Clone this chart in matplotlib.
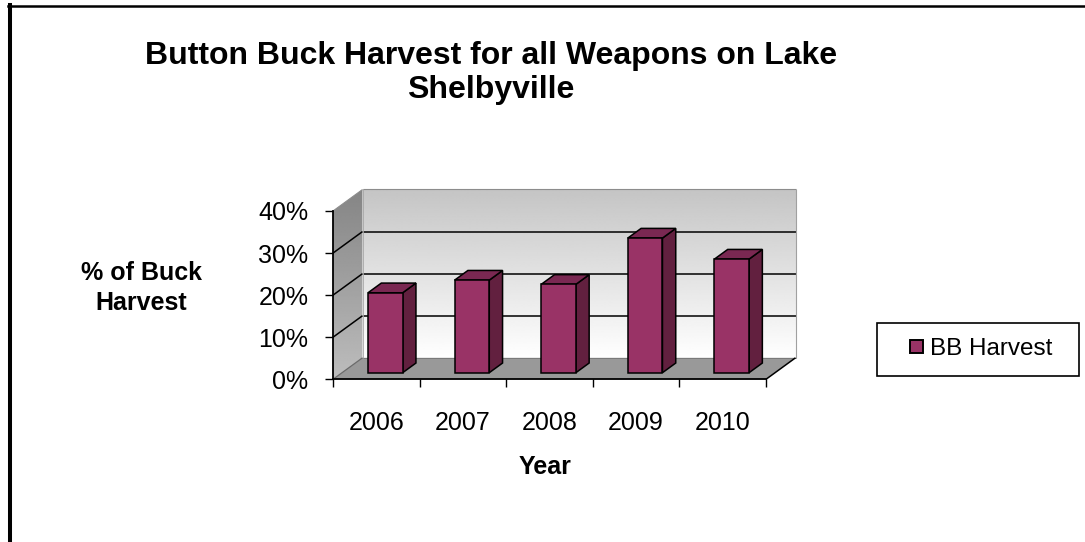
import numpy as np
import matplotlib
matplotlib.use('Agg')
import matplotlib.pyplot as plt
from matplotlib.patches import Polygon, Rectangle, Patch
from matplotlib.lines import Line2D
from matplotlib.transforms import Affine2D, IdentityTransform
from matplotlib.ticker import PercentFormatter, FixedLocator
from matplotlib.legend_handler import HandlerPatch

# ---- data ----
years = ['2006', '2007', '2008', '2009', '2010']
bb_harvest = [0.19, 0.22, 0.21, 0.32, 0.27]
y_ticks = [0.0, 0.1, 0.2, 0.3, 0.4]
series_name = 'BB Harvest'
title = 'Button Buck Harvest for all Weapons on Lake\nShelbyville'
x_label = 'Year'
y_label = '% of Buck\nHarvest'

plt.rcParams['font.family'] = ['Liberation Sans', 'DejaVu Sans']

W, H = 1085, 542
fig = plt.figure(figsize=(W / 100, H / 100), dpi=100)
fig.patch.set_facecolor('white')


def fx(px):
    return px / W


def fy(py):
    return 1 - py / H


ax = fig.add_axes([fx(333), fy(379.3), fx(766) - fx(333), fy(211) - fy(379.3)])
ax.set_xlim(0, len(years))
ax.set_ylim(0, y_ticks[-1])
ax.set_autoscale_on(False)
ax.patch.set_visible(False)

DX, DY = 29.5, 21.5          # depth vector in pixels
D0, D1 = 0.307, 0.757        # bar depth range
BW = 0.4                     # bar width (category units)
FRONT = '#993366'
SIDE = '#62203f'
TOP = '#7a2852'
ymax = y_ticks[-1]
ncat = len(years)


def P(x, y, d):
    px, py = ax.transData.transform((x, y))
    return (px + d * DX, py + d * DY)


def dline(p, q, color='black', lw=1.1, z=2):
    ln = Line2D([p[0], q[0]], [p[1], q[1]], transform=IdentityTransform(),
                color=color, lw=lw, zorder=z, clip_on=False,
                solid_capstyle='butt')
    ax.add_artist(ln)


# back wall gradient
grad = np.linspace(0.77, 1.0, 256).reshape(-1, 1)
tr_back = ax.transData + Affine2D().translate(DX, DY)
ax.imshow(grad, cmap='gray', vmin=0, vmax=1, extent=(0, ncat, 0, ymax),
          transform=tr_back, aspect='auto', zorder=0, clip_on=False,
          interpolation='bilinear', origin='upper')

# left wall gradient clipped to parallelogram
lw_pts = [P(0, 0, 0), P(0, ymax, 0), P(0, ymax, 1), P(0, 0, 1)]
lw_poly = Polygon(lw_pts, closed=True, transform=IdentityTransform(),
                  facecolor='none', edgecolor='none')
ax.add_artist(lw_poly)
xs = [p[0] for p in lw_pts]
ys = [p[1] for p in lw_pts]
lgrad = np.linspace(0.52, 0.74, 256).reshape(-1, 1)
im2 = ax.imshow(lgrad, cmap='gray', vmin=0, vmax=1,
                extent=(min(xs), max(xs), min(ys), max(ys)),
                transform=IdentityTransform(), aspect='auto', zorder=0,
                interpolation='bilinear', origin='upper')
im2.set_clip_path(lw_poly)
im2.set_clip_box(fig.bbox)

# floor
floor = Polygon([P(0, 0, 0), P(ncat, 0, 0), P(ncat, 0, 1), P(0, 0, 1)],
                closed=True, transform=IdentityTransform(),
                facecolor='#999999', edgecolor='none', zorder=1, clip_on=False)
ax.add_artist(floor)

# gridlines
for v in y_ticks[1:-1]:
    dline(P(0, v, 1), P(ncat, v, 1), 'black', 1.1)
    dline(P(0, v, 0), P(0, v, 1), 'black', 1.1)
# wall edges
dline(P(0, ymax, 1), P(ncat, ymax, 1), '#8c8c8c', 0.8)
dline(P(0, ymax, 0), P(0, ymax, 1), '#8c8c8c', 0.8)
dline(P(ncat, 0, 1), P(ncat, ymax, 1), '#a0a0a0', 0.8)
dline(P(0, 0, 1), P(0, ymax, 1), '#a8a8a8', 0.6)
dline(P(0, 0, 1), P(ncat, 0, 1), '#7a7a7a', 0.7)
dline(P(0, 0, 0), P(0, 0, 1), '#6a6a6a', 0.9)
dline(P(ncat, 0, 0), P(ncat, 0, 1), 'black', 1.1)

# bars
xc = np.arange(ncat) + 0.5
tr_front = ax.transData + Affine2D().translate(D0 * DX, D0 * DY)
ax.bar(xc, bb_harvest, width=BW, color=FRONT, edgecolor='black',
       linewidth=1.1, transform=tr_front, zorder=5, clip_on=False)
for x, v in zip(xc, bb_harvest):
    r = x + BW / 2
    l = x - BW / 2
    side = Polygon([P(r, 0, D0), P(r, v, D0), P(r, v, D1), P(r, 0, D1)],
                   closed=True, transform=IdentityTransform(), facecolor=SIDE,
                   edgecolor='black', linewidth=1.1, zorder=4, clip_on=False,
                   joinstyle='miter')
    top = Polygon([P(l, v, D0), P(r, v, D0), P(r, v, D1), P(l, v, D1)],
                  closed=True, transform=IdentityTransform(), facecolor=TOP,
                  edgecolor='black', linewidth=1.1, zorder=4, clip_on=False,
                  joinstyle='miter')
    ax.add_artist(side)
    ax.add_artist(top)

# axes styling
for s in ['top', 'right']:
    ax.spines[s].set_visible(False)
ax.spines['left'].set_linewidth(1.3)
ax.spines['bottom'].set_linewidth(1.3)
ax.spines['left'].set_zorder(3)
ax.spines['bottom'].set_zorder(3)

ax.set_yticks(y_ticks)
ax.yaxis.set_major_formatter(PercentFormatter(1.0, decimals=0))
ax.tick_params(axis='y', length=5.8, width=1.0, direction='out',
               labelsize=18, pad=12)
ax.set_xticks(xc)
ax.set_xticklabels(years)
ax.xaxis.set_minor_locator(FixedLocator(np.arange(ncat + 1)))
ax.tick_params(axis='x', which='major', length=0, labelsize=18, pad=23)
ax.tick_params(axis='x', which='minor', length=5.8, width=1.0,
               direction='out')

ax.set_xlabel(x_label, fontsize=18, fontweight='bold')
ax.xaxis.set_label_coords((545.5 - 333) / 433, (379.3 - 467.5) / 168.3)
ax.xaxis.label.set_va('center')
ax.set_ylabel(y_label, fontsize=18, fontweight='bold', rotation=0,
              ha='center', va='baseline', linespacing=1.3)
ax.yaxis.set_label_coords((141.5 - 333) / 433, (379.3 - 304) / 168.3)

fig.text(fx(491), fy(97.7), title, ha='center', va='baseline', fontsize=23,
         fontweight='bold', linespacing=1.18)


# legend with square marker at right end of handle area
def make_sq(legend, orig_handle, xdescent, ydescent, width, height, fontsize):
    s = 9.4
    return Rectangle((-xdescent + width - s, -ydescent + (height - s) / 2),
                     s, s)


handle = Patch(facecolor=FRONT, edgecolor='black', linewidth=1.4)
leg = ax.legend([handle], [series_name], loc='center',
                bbox_to_anchor=(fx(877), fy(376), fx(1079) - fx(877),
                                fy(322.7) - fy(376)),
                bbox_transform=fig.transFigure, mode='expand',
                borderaxespad=0, fontsize=17.5, frameon=True, fancybox=False,
                edgecolor='black', framealpha=1, borderpad=0.63,
                handlelength=1.26, handleheight=0.7, handletextpad=0.29,
                handler_map={Patch: HandlerPatch(patch_func=make_sq)})
leg.get_frame().set_linewidth(1.2)

# outer frame
fig.add_artist(Line2D([fx(10), fx(10)], [fy(5), 0],
                      transform=fig.transFigure, color='black', lw=2.9))
fig.add_artist(Line2D([fx(8), 1], [fy(6.2), fy(6.2)],
                      transform=fig.transFigure, color='black', lw=1.8))

fig.savefig('out.png', dpi=100, facecolor='white')
